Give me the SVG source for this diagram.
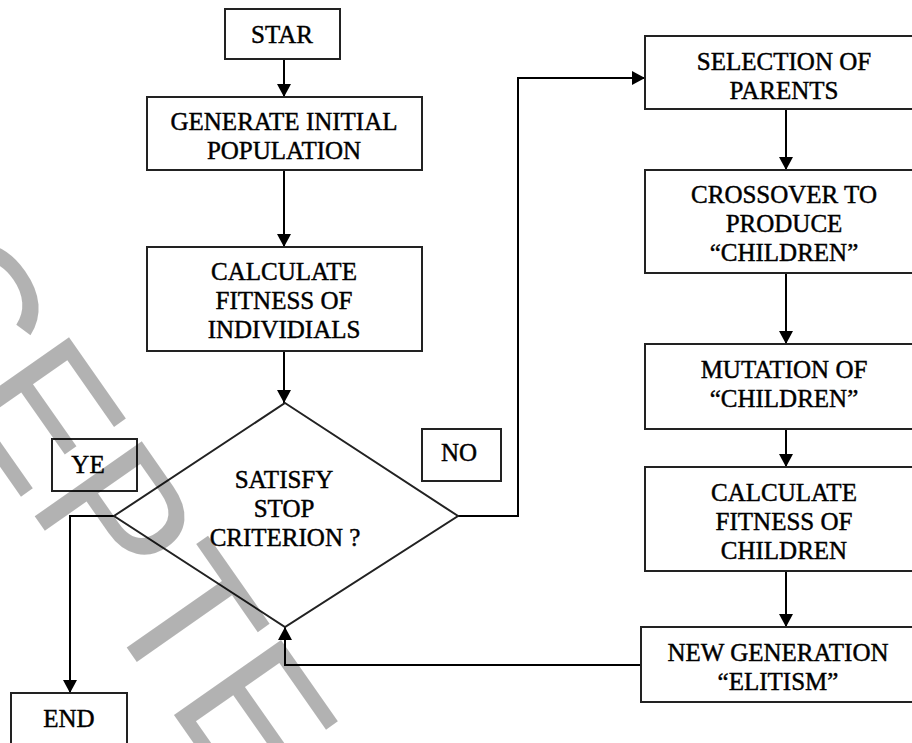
<svg xmlns="http://www.w3.org/2000/svg" width="912" height="743" viewBox="0 0 912 743">
<style>
.box{fill:#fff;stroke:#222;stroke-width:2}
.t{font-family:"Liberation Serif","Times New Roman",serif;font-size:25px;fill:#000;stroke:#000;stroke-width:0.45;text-anchor:middle}
.c{fill:none;stroke:#000;stroke-width:2}
.wm{font-family:"Liberation Sans",Arial,sans-serif;font-size:190px;fill:#000;fill-opacity:0.3}
</style>
<defs>
<marker id="ah" markerUnits="userSpaceOnUse" markerWidth="14" markerHeight="14" refX="13" refY="7" orient="auto">
<path d="M0,0 L13,7 L0,14 z" fill="#000"/>
</marker>
</defs>
<rect width="912" height="743" fill="#fff"/>
<g id="connectors">
<path class="c" d="M284,59 V97" marker-end="url(#ah)"/>
<path class="c" d="M284,170 V247" marker-end="url(#ah)"/>
<path class="c" d="M284,351 V403" marker-end="url(#ah)"/>
<path class="c" d="M114,516 H70 V693" marker-end="url(#ah)"/>
<path class="c" d="M458,516 H518 V78 H645" marker-end="url(#ah)"/>
<path class="c" d="M786,109 V170" marker-end="url(#ah)"/>
<path class="c" d="M786,273 V344" marker-end="url(#ah)"/>
<path class="c" d="M786,429 V467" marker-end="url(#ah)"/>
<path class="c" d="M786,571 V627" marker-end="url(#ah)"/>
<path class="c" d="M641,665 H285 V627" marker-end="url(#ah)"/>
</g>
<g id="start">
<rect class="box" x="225" y="9" width="115" height="50"/>
<text class="t" x="282" y="43">STAR</text>
</g>
<g id="generate">
<rect class="box" x="147" y="97" width="275" height="73"/>
<text class="t" x="284" y="130">GENERATE INITIAL</text>
<text class="t" x="284" y="159">POPULATION</text>
</g>
<g id="calc-ind">
<rect class="box" x="147" y="247" width="275" height="104"/>
<text class="t" x="284" y="280">CALCULATE</text>
<text class="t" x="284" y="309">FITNESS OF</text>
<text class="t" x="284" y="338">INDIVIDIALS</text>
</g>
<g id="decision">
<polygon class="box" points="285,403 458,516 285,627 114,516"/>
<text class="t" x="284" y="488">SATISFY</text>
<text class="t" x="284" y="517">STOP</text>
<text class="t" x="285" y="546">CRITERION ?</text>
</g>
<g id="yes">
<rect class="box" x="52" y="439" width="85" height="52"/>
<text class="t" x="88" y="473">YE</text>
</g>
<g id="no">
<rect class="box" x="422" y="429" width="79" height="52"/>
<text class="t" x="459" y="461">NO</text>
</g>
<g id="end">
<rect class="box" x="11" y="693" width="116" height="60"/>
<text class="t" x="69" y="727">END</text>
</g>
<g id="selection">
<rect class="box" x="645" y="36" width="280" height="73"/>
<text class="t" x="784" y="70">SELECTION OF</text>
<text class="t" x="784" y="99">PARENTS</text>
</g>
<g id="crossover">
<rect class="box" x="645" y="170" width="280" height="103"/>
<text class="t" x="784" y="203">CROSSOVER TO</text>
<text class="t" x="784" y="232">PRODUCE</text>
<text class="t" x="784" y="261">“CHILDREN”</text>
</g>
<g id="mutation">
<rect class="box" x="645" y="344" width="280" height="85"/>
<text class="t" x="784" y="378">MUTATION OF</text>
<text class="t" x="784" y="407">“CHILDREN”</text>
</g>
<g id="calc-children">
<rect class="box" x="645" y="467" width="280" height="104"/>
<text class="t" x="784" y="501">CALCULATE</text>
<text class="t" x="784" y="530">FITNESS OF</text>
<text class="t" x="784" y="559">CHILDREN</text>
</g>
<g id="new-generation">
<rect class="box" x="641" y="627" width="284" height="75"/>
<text class="t" x="778" y="661">NEW GENERATION</text>
<text class="t" x="778" y="690">“ELITISM”</text>
</g>
<g id="watermark">
<text class="wm" transform="translate(-277,71) rotate(55)">ACCEPTED</text>
</g>
</svg>
